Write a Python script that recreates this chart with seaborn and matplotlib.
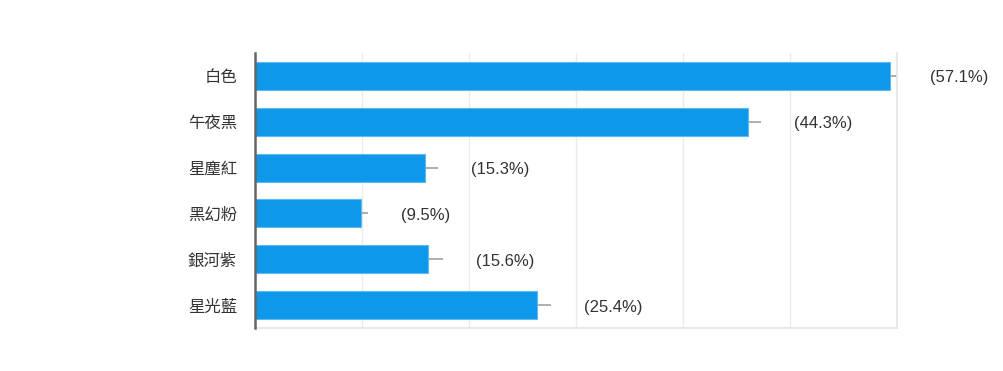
import numpy as np
import pandas as pd
import matplotlib
matplotlib.use('Agg')
import matplotlib.pyplot as plt
import seaborn as sns

# %% data
colors = ['白色', '午夜黑', '星塵紅', '黑幻粉', '銀河紫', '星光藍']
percent = [57.1, 44.3, 15.3, 9.5, 15.6, 25.4]
err = [0.6, 1.2, 1.2, 0.7, 1.35, 1.25]
labels = ['(57.1%)', '(44.3%)', '(15.3%)', '(9.5%)', '(15.6%)', '(25.4%)']

df = pd.DataFrame({'color': colors, 'percent': percent})

sns.set_theme(style='white')
plt.rcParams['font.family'] = ['Noto Sans CJK TC', 'DejaVu Sans']

fig = plt.figure(figsize=(10.04, 3.71), dpi=100)
ax = fig.add_axes([255 / 1004, 1 - 328 / 371, 642 / 1004, 275 / 371])

sns.barplot(data=df, x='percent', y='color', color='#0e98ea', width=0.61,
            edgecolor='#5db9f0', linewidth=0.8, saturation=1, ax=ax, zorder=3)

ypos = np.arange(len(colors))
ax.errorbar(percent, ypos, xerr=[np.zeros(len(err)), err], fmt='none',
            ecolor='#a8a8a8', elinewidth=1.3, capsize=0, zorder=2)

# labels sit a bit to the right of the stub
for y, (p, e, lab) in enumerate(zip(percent, err, labels)):
    ax.annotate(lab, xy=(p + e, y), xytext=(33, -2), textcoords='offset pixels',
                ha='left', va='center', fontsize=12, color='#333333',
                family=['Liberation Sans', 'DejaVu Sans'], annotation_clip=False)

xmax = 57.1 * 642 / 635
ax.set_xlim(0, xmax)
ax.set_ylim(len(colors) - 0.5, -0.5)
ax.set_xticks(np.linspace(0, xmax, 7))
ax.set_xticklabels([])
ax.grid(axis='x', color='#ebebeb', linewidth=1, zorder=0)
ax.set_xlabel('')
ax.set_ylabel('')
ax.tick_params(axis='y', length=0, pad=13, labelsize=11.8, labelcolor='#333333')
ax.tick_params(axis='x', length=0)

ax.spines['top'].set_visible(False)
ax.spines['right'].set_color('#e6e6e6')
ax.spines['bottom'].set_color('#e6e6e6')
ax.spines['left'].set_color('#666666')
ax.spines['left'].set_linewidth(1.8)
ax.spines['left'].set_zorder(5)

fig.savefig('out.png', dpi=100)
